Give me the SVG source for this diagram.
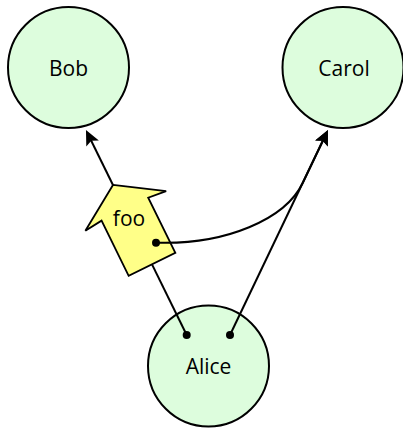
<svg xmlns="http://www.w3.org/2000/svg" width="403" height="429" viewBox="0 0 403 429">
<style>
.node{fill:#ddfddd;stroke:#000;stroke-width:2}
.lbl{font-family:"Open Sans","Liberation Sans",sans-serif;font-size:21px;fill:#000;text-anchor:middle}
.edge{fill:none;stroke:#000;stroke-width:2}
.dot{fill:#000}
.tag{fill:#ffff88;stroke:#000;stroke-width:1.8;stroke-linejoin:miter}
</style>
<defs>
<marker id="arr" markerUnits="userSpaceOnUse" viewBox="-9 -9 20 18" markerWidth="20" markerHeight="18" refX="0" refY="0" orient="auto" overflow="visible">
<path d="M8,0 L-7,-7 L-4,0 L-7,7 Z" fill="#000"/>
</marker>
</defs>
<rect width="403" height="429" fill="#fff"/>
<g id="bob">
<circle class="node" cx="68.5" cy="67.5" r="60.5"/>
<text class="lbl" x="68.5" y="76">Bob</text>
</g>
<g id="carol">
<circle class="node" cx="343" cy="67.5" r="60.5"/>
<text class="lbl" x="344" y="76">Carol</text>
</g>
<g id="alice">
<circle class="node" cx="208.5" cy="366" r="60.5"/>
<text class="lbl" x="208.5" y="373.5">Alice</text>
</g>
<g id="foo">
<polygon class="tag" transform="translate(138.55,237) rotate(-116.17)" points="58,0 29,45 31,26 -30.5,26 -30.5,-26 31,-26 29,-45"/>
<text class="lbl" x="129" y="225.7">foo</text>
</g>
<g id="connectors">
<path class="edge" d="M186.7,335 L152,264.4"/>
<path class="edge" d="M112.98,184.94 L89.5,137.2" marker-end="url(#arr)"/>
<path class="edge" d="M230,335 L324.5,137.2" marker-end="url(#arr)"/>
<path class="edge" d="M156,242.7 C226,245 285.4,219.1 302.7,183 L324.5,137.2" marker-end="url(#arr)"/>
<circle class="dot" cx="186.7" cy="335" r="4"/>
<circle class="dot" cx="230" cy="335" r="4"/>
<circle class="dot" cx="156" cy="242.7" r="4"/>
</g>
</svg>
